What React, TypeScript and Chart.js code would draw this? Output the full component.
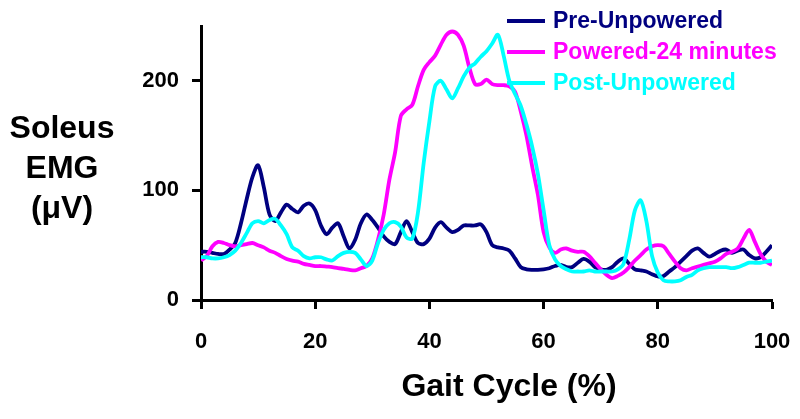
import React, { useEffect, useRef } from "react";
import { Chart, registerables } from "chart.js";

Chart.register(...registerables);

// Gait cycle positions (%), one sample per percent
const gaitPercent: number[] = Array.from({ length: 101 }, (_, i) => i);

const preUnpowered: number[] = [
  44, 44, 43, 42, 42, 46, 52, 70, 92, 112,
  123, 103, 78, 72, 80, 87, 83, 80, 86, 88,
  82, 68, 60, 66, 70, 58, 47, 55, 70, 78,
  73, 66, 58, 53, 51, 62, 72, 62, 52, 51,
  56, 66, 71, 66, 62, 64, 68, 68, 68, 69,
  62, 50, 48, 47, 45, 38, 30, 28, 27.5, 27.5,
  28, 29, 31, 32, 30, 30, 34, 37.5, 35, 30,
  28, 27.5, 30, 35, 38, 33, 28, 27, 26, 23.5,
  21.5, 22, 26, 30, 35, 40, 45, 47, 43, 39.5,
  42, 45, 46, 43, 45, 46, 41, 38, 39, 44, 50,
];

const powered24: number[] = [
  36, 40, 49, 53, 52, 50, 49, 50, 51, 52,
  50, 48, 45, 43, 40, 37.5, 36, 35, 33, 32,
  31, 31, 30.5, 30, 29, 28.5, 27.5, 27, 29, 31,
  38, 55, 78, 110, 135, 168, 174, 178, 195, 210,
  217, 223, 233, 242, 245, 242, 232, 212, 197, 197,
  201, 197, 196, 196, 195, 190, 172, 150, 122, 96,
  62, 48, 43, 46, 47, 45, 44, 44, 40, 34,
  28, 23, 20, 22, 25, 30, 36, 41, 46, 49,
  50, 49, 42, 35, 29, 27, 29, 30.5, 32, 33.5,
  35, 38, 42, 44, 47, 56, 64, 53, 42, 35, 32,
];

const postUnpowered: number[] = [
  39, 39, 38, 38, 39, 41, 45, 52, 61, 70,
  72, 70, 73, 74, 68, 60, 48, 45, 40, 38,
  39, 39, 37, 36, 40, 43, 44, 43, 37, 31,
  36, 52, 64, 70, 71, 67, 57, 56, 80, 125,
  163, 195, 200, 192, 184, 193, 204, 212, 216, 222,
  227, 234, 242, 223, 200, 188, 177, 160, 140, 115,
  82, 50, 37, 31, 28, 26, 26, 26, 27, 26,
  26, 26, 26, 28, 33, 55, 82, 91, 72, 40,
  25, 18, 17, 17, 18, 21, 23, 27, 29, 30,
  30, 30, 30, 29, 30, 32, 34, 34, 34, 35, 36,
];

const seriesLabels: string[] = ["Pre-Unpowered", "Powered-24 minutes", "Post-Unpowered"];
const seriesColors: string[] = ["#000080", "#ff00ff", "#00ffff"];
const yTitleLines: string[] = ["Soleus", "EMG", "(\u03bcV)"];
const xTitle = "Gait Cycle (%)";

const FONT = '"Liberation Sans", Arial, Helvetica, sans-serif';

const toPoints = (vals: number[]) => vals.map((v, i) => ({ x: gaitPercent[i], y: v }));

const annotationPlugin = {
  id: "annotationPlugin",
  afterDatasetsDraw(chart: any) {
    const ctx: CanvasRenderingContext2D = chart.ctx;
    ctx.save();
    // Legend
    const rowY = [21, 52, 83];
    chart.data.datasets.forEach((ds: any, i: number) => {
      const y = rowY[i];
      ctx.strokeStyle = ds.borderColor;
      ctx.lineWidth = 4;
      ctx.lineCap = "butt";
      ctx.beginPath();
      ctx.moveTo(507, y);
      ctx.lineTo(545, y);
      ctx.stroke();
      ctx.fillStyle = ds.borderColor;
      ctx.font = `bold 23px ${FONT}`;
      ctx.textAlign = "left";
      ctx.textBaseline = "middle";
      ctx.fillText(ds.label, 553, y + 1);
    });
    // Y axis title (horizontal, stacked)
    ctx.fillStyle = "#000";
    ctx.font = `bold 32px ${FONT}`;
    ctx.textAlign = "center";
    ctx.textBaseline = "middle";
    yTitleLines.forEach((line, i) => {
      ctx.fillText(line, 62, 129 + i * 40);
    });
    // X axis title
    ctx.fillText(xTitle, 509, 387);
    ctx.restore();
  },
};

export default function App() {
  const canvasRef = useRef<HTMLCanvasElement | null>(null);

  useEffect(() => {
    document.body.style.margin = "0";
    const canvas = canvasRef.current;
    if (!canvas) return;
    const sets = [preUnpowered, powered24, postUnpowered];
    const chart = new Chart(canvas, {
      type: "line",
      data: {
        datasets: sets.map((vals, i) => ({
          label: seriesLabels[i],
          data: toPoints(vals),
          borderColor: seriesColors[i],
          backgroundColor: seriesColors[i],
          borderWidth: 3.8,
          pointRadius: 0,
          tension: 0.3,
          fill: false,
          order: 2 - i,
        })),
      },
      options: {
        animation: false,
        responsive: false,
        devicePixelRatio: 1,
        layout: { padding: { left: 0, right: 28, top: 26, bottom: 0 } },
        plugins: {
          legend: { display: false },
          tooltip: { enabled: false },
          title: { display: false },
        },
        scales: {
          x: {
            type: "linear",
            min: 0,
            max: 100,
            ticks: {
              stepSize: 20,
              color: "#000",
              font: { family: FONT, size: 22, weight: "bold" },
              padding: 20,
              maxRotation: 0,
            },
            grid: {
              display: true,
              drawOnChartArea: false,
              drawTicks: true,
              tickLength: 9,
              tickWidth: 3,
              tickColor: "#000",
            },
            border: { display: true, color: "#000", width: 3 },
            afterFit: (scale: any) => {
              scale.height = 119;
              scale.paddingLeft = 0;
              scale.paddingRight = 0;
            },
          },
          y: {
            type: "linear",
            min: 0,
            max: 250,
            ticks: {
              stepSize: 100,
              includeBounds: false,
              color: "#000",
              font: { family: FONT, size: 22, weight: "bold" },
              padding: 13,
            },
            grid: {
              display: true,
              drawOnChartArea: false,
              drawTicks: true,
              tickLength: 9,
              tickWidth: 3,
              tickColor: "#000",
            },
            border: { display: true, color: "#000", width: 3 },
            afterFit: (scale: any) => {
              scale.width = 201;
              scale.paddingTop = 0;
              scale.paddingBottom = 0;
            },
          },
        },
      } as any,
      plugins: [annotationPlugin],
    });
    return () => chart.destroy();
  }, []);

  return (
    <div style={{ width: 800, height: 419, background: "#fff" }}>
      <canvas ref={canvasRef} width={800} height={419} style={{ display: "block" }} />
    </div>
  );
}
